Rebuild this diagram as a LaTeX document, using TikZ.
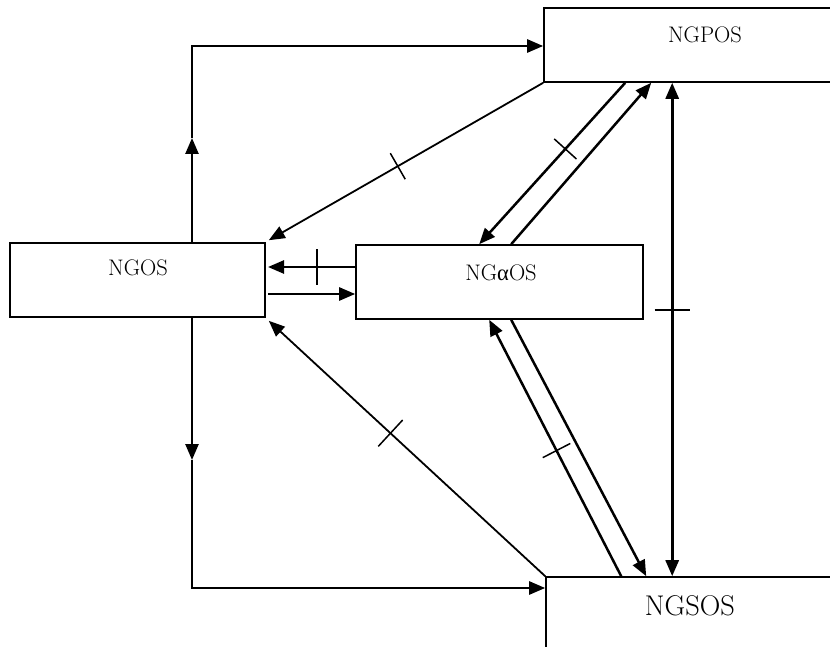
\documentclass[tikz,border=0pt]{standalone}
\usepackage{fontspec}
\newfontfamily\grk{Liberation Serif}
\usetikzlibrary{arrows.meta,calc,decorations.markings}
\begin{document}
\begin{tikzpicture}[x=1pt,y=-1pt,
  box/.style={draw, line width=1.6pt, inner sep=0pt, rectangle},
  thn/.style={line width=1.8pt},
  thk/.style={line width=2.5pt},
  tip/.style={-{Triangle[length=16pt,width=13pt]}},
  dtip/.style={{Triangle[length=16pt,width=13pt]}-{Triangle[length=16pt,width=13pt]}},
  lbl/.style={anchor=base, inner sep=0pt, font=\fontsize{22.5}{27}\selectfont},
  crossmark/.style 2 args={postaction={decorate,decoration={markings,
     mark=at position #1 with {\draw[line width=1.5pt, arrows=-] (0pt,-#2pt) -- (0pt,#2pt);}}}}]
\useasboundingbox (0,0) rectangle (830,647);
\clip (0,0) rectangle (830,647);
\fill[white] (0,0) rectangle (830,647);
% boxes
\node[box, minimum width=255pt, minimum height=74pt] (ngos) at (137.5,280) {};
\node[box, minimum width=287pt, minimum height=74pt] (nga) at (499.5,282) {};
\node[box, minimum width=322pt, minimum height=74pt] (ngpos) at (705,45) {};
\node[box, minimum width=288pt, minimum height=100pt] (ngsos) at (690,627) {};
% labels
\node[lbl] (t1) at (705,43) {NGPOS};
\node[lbl] (t2) at (138,275.7) {NGOS};
\node[lbl] (t3) at (501,280) {NG{\grk α}OS};
\node[lbl, font=\fontsize{28.5}{33}\selectfont] (t4) at (690,615) {NGSOS};
% top-left loop
\coordinate (p1) at (192,138);
\coordinate (p2) at (192,46);
\coordinate (p3) at (358,46);
\draw[thk,tip] (ngos.north -| p1) -- (p1);
\draw[thn] (p1) -- (p2) -- (p3);
\draw[thk,tip] (p3) -- (p3 -| ngpos.west);
% bottom-left loop
\coordinate (q1) at (192,460);
\coordinate (q2) at (192,588);
\coordinate (q3) at (400,588);
\draw[thk,tip] (ngos.south -| q1) -- (q1);
\draw[thn] (q1) -- (q2) -- (q3);
\draw[thk,tip] (q3) -- (q3 -| ngsos.west);
% NGPOS -> NGOS
\draw[thn,tip,crossmark={0.53}{15}] (ngpos.south west) -- ($(ngos.north east)+(3,-2)$);
% NGSOS -> NGOS
\draw[thn,tip,crossmark={0.56}{18}] (ngsos.north west) -- ($(ngos.south east)+(3,3)$);
% NGaOS <-> NGOS
\coordinate (r1) at (268,267);
\coordinate (r2) at (268,294);
\draw[thk,tip,crossmark={0.44}{17.5}] (r1 -| nga.west) -- (r1);
\draw[thk,tip] (r2) -- (r2 -| nga.west);
% NGPOS <-> NGaOS
\draw[thk,tip,crossmark={0.41}{15}] ($(ngpos.south west)+(82,0)$) -- ($(nga.north west)+(124,0)$);
\draw[thk,tip] ($(nga.north west)+(156,0)$) -- ($(ngpos.south west)+(108,0)$);
% NGSOS <-> NGaOS
\draw[thk,tip,crossmark={0.49}{15.5}] ($(ngsos.north west)+(76,0)$) -- ($(nga.south west)+(134,0)$);
\draw[thk,tip] ($(nga.south west)+(156,0)$) -- ($(ngsos.north west)+(101,0)$);
% NGPOS <-> NGSOS
\draw[line width=2.8pt,dtip,crossmark={0.46}{17.5}] ($(ngpos.south west)+(129,0)$) -- ($(ngsos.north west)+(127,0)$);
\end{tikzpicture}
\end{document}
